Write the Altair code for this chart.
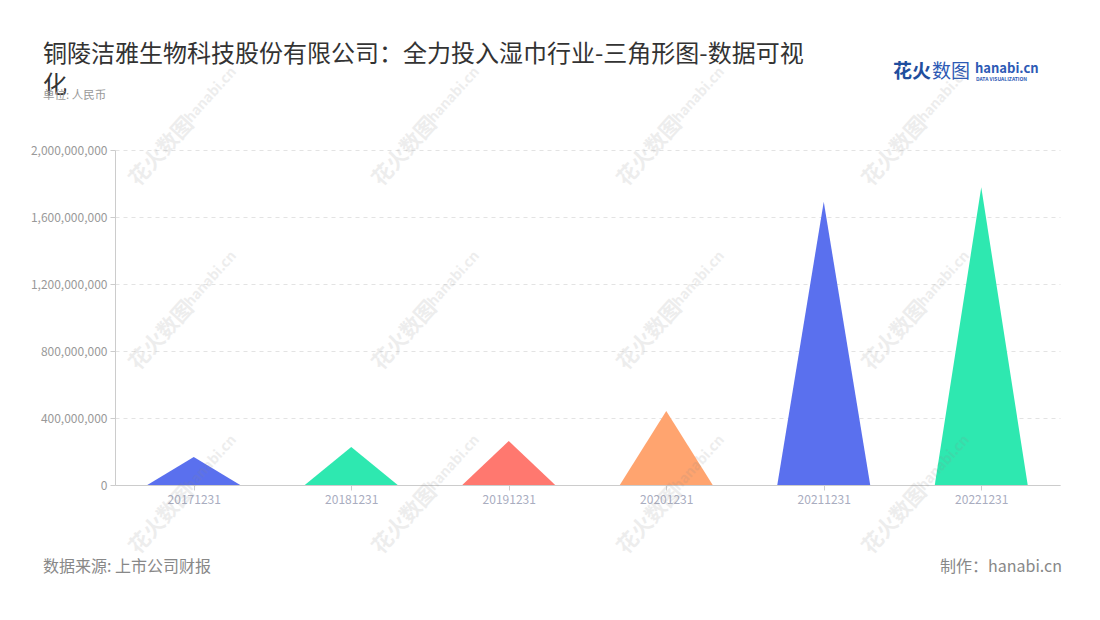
import altair as alt
import pandas as pd

# ---- data ----
categories = ["20171231", "20181231", "20191231", "20201231", "20211231", "20221231"]
values = [167e6, 227e6, 263e6, 442e6, 1691e6, 1777e6]
colors = ["#5a70ee", "#2ee8b0", "#ff786f", "#ffa46f", "#5a70ee", "#2ee8b0"]
y_ticks = [0, 400e6, 800e6, 1200e6, 1600e6, 2000e6]

TITLE_1 = "铜陵洁雅生物科技股份有限公司：全力投入湿巾行业-三角形图-数据可视"
TITLE_2 = "化"
SUBTITLE = "单位: 人民币"
SOURCE = "数据来源: 上市公司财报"
MAKER = "制作：hanabi.cn"

FONT = "Noto Sans CJK SC"
HALF = 0.295  # half base width of each triangle in category units

keys = ["c%d" % i for i in range(len(categories))]
rows = []
for i, (k, v) in enumerate(zip(keys, values)):
    rows.append({"cat": k, "pos": i - HALF, "val": 0.0})
    rows.append({"cat": k, "pos": float(i), "val": float(v)})
    rows.append({"cat": k, "pos": i + HALF, "val": 0.0})
df = pd.DataFrame(rows)

label_arr = "[" + ",".join("'%s'" % c for c in categories) + "]"

W, H = 945, 335

tri = alt.Chart(df).mark_area(interpolate="linear", opacity=1).encode(
    x=alt.X("pos:Q",
            scale=alt.Scale(domain=[-0.5, 5.5], nice=False, zero=False),
            axis=alt.Axis(values=list(range(len(categories))), labelExpr=label_arr + "[datum.value]",
                          grid=False, title=None, domainColor="#cccccc", tickColor="#cccccc",
                          tickSize=5, labelColor="#a9adbf", labelFontSize=12, labelPadding=4,
                          labelFont=FONT)),
    y=alt.Y("val:Q", stack=None,
            scale=alt.Scale(domain=[0, 2e9], nice=False),
            axis=alt.Axis(values=y_ticks, format=",d", title=None, grid=True, gridDash=[4, 4],
                          gridColor="#e3e3e3", domainColor="#cccccc", tickColor="#cccccc",
                          tickSize=5, labelColor="#999999", labelFontSize=12, labelPadding=3,
                          labelFont=FONT)),
    color=alt.Color("cat:N", scale=alt.Scale(domain=keys, range=colors), legend=None),
)

one = pd.DataFrame({"k": [0]})


def txt(text, x, y, size, color, align="left", weight="normal", baseline="middle", angle=0, opacity=1):
    return alt.Chart(one).mark_text(
        text=text, align=align, baseline=baseline, fontSize=size, color=color,
        font=FONT, fontWeight=weight, angle=angle, opacity=opacity
    ).encode(x=alt.value(x), y=alt.value(y))


OX, OY = 115, 150  # page position of plot origin
texts = [
    txt(TITLE_1, 43 - OX, 55 - OY, 24, "#333333"),
    txt(TITLE_2, 43 - OX, 86 - OY, 24, "#333333"),
    txt(SUBTITLE, 43 - OX, 96 - OY, 11.5, "#999999"),
    txt(SOURCE, 43 - OX, 567 - OY, 16, "#888888"),
    txt(MAKER, 1062 - OX, 567 - OY, 16, "#888888", align="right"),
    txt("花火", 893 - OX, 72 - OY, 19, "#1f4e9e", weight="bold"),
    txt("数图", 932 - OX, 72 - OY, 19, "#2d5ab5"),
    txt("hanabi.cn", 975 - OX, 69 - OY, 13, "#2d5ab5", weight="bold"),
    txt("DATA VISUALIZATION", 976 - OX, 79 - OY, 5, "#2d5ab5", weight="bold"),
]

# faint diagonal watermarks
marks = []
for wy in [152, 336, 520]:
    for wx in [162, 405, 650, 895]:
        marks.append(txt("花火数图", wx - OX, wy - OY, 21, "#888888", align="center",
                         weight="bold", angle=312, opacity=0.14))
        marks.append(txt("hanabi.cn", wx + 49 - OX, wy - 57 - OY, 14, "#888888", align="center",
                         weight="bold", angle=312, opacity=0.14))

chart = alt.layer(tri, *texts, *marks).properties(
    width=W, height=H,
    autosize=alt.AutoSizeParams(type="none"),
    padding={"left": OX - 8, "top": OY - 8, "right": 1084 - (OX - 8) - W, "bottom": 604 - (OY - 8) - H},
    background="white",
).configure_view(stroke=None)

chart.save("out.html", embed_options={"renderer": "svg", "actions": False})
